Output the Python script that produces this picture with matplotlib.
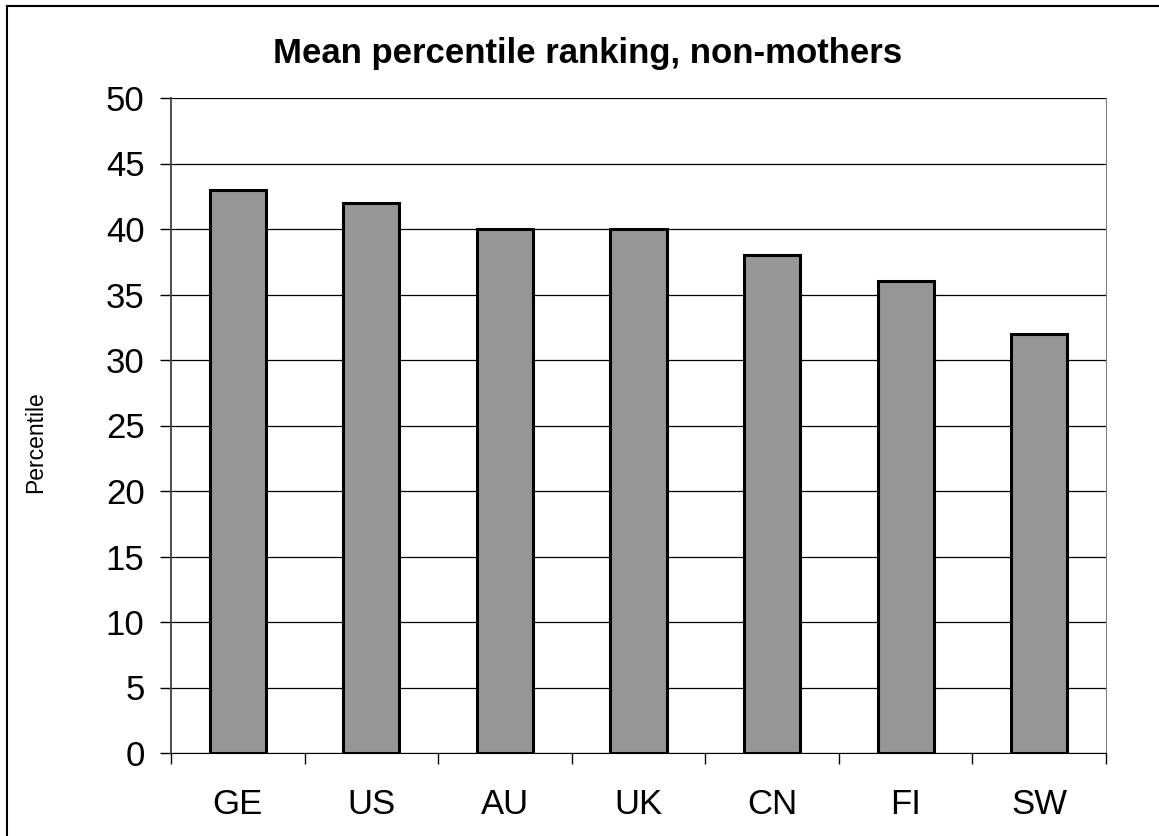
import matplotlib.pyplot as plt
from matplotlib.lines import Line2D

countries = ["GE", "US", "AU", "UK", "CN", "FI", "SW"]
percentile = [43, 42, 40, 40, 38, 36, 32]
yticks = [0, 5, 10, 15, 20, 25, 30, 35, 40, 45, 50]

plt.rcParams["font.family"] = ["Liberation Sans", "DejaVu Sans"]

fig = plt.figure(figsize=(11.59, 8.36), dpi=100)
W, H = 1159, 836
ax = fig.add_axes([171 / W, 1 - 753 / H, (1106 - 171) / W, (753 - 98) / H])

x = range(len(countries))
ax.bar(x, percentile, width=0.42, color="#969696", edgecolor="black",
       linewidth=2.2, zorder=3)

ax.set_xlim(-0.5, len(countries) - 0.5)
ax.set_ylim(0, 50)
ax.set_yticks(yticks)
ax.tick_params(axis="y", labelsize=25, length=8, width=1, direction="out", pad=11)
ax.grid(axis="y", color="black", linewidth=0.9, zorder=0)

# category labels between tick marks at category boundaries
ax.set_xticks([i + 0.5 for i in range(-1, len(countries))])
ax.set_xticklabels([])
ax.set_xticks(list(x), minor=True)
ax.set_xticklabels(countries, minor=True)
ax.tick_params(axis="x", which="major", length=8, width=1, direction="out")
ax.tick_params(axis="x", which="minor", length=0, labelsize=25, pad=25)

ax.spines["top"].set_visible(False)
ax.spines["right"].set_color("#808080")
ax.spines["left"].set_color("#404040")
ax.spines["left"].set_linewidth(1.3)
ax.spines["bottom"].set_color("black")

fig.text(36 / W, 1 - 442 / H, "Percentile", rotation=90,
         ha="center", va="center", fontsize=16.5)
fig.text(588 / W, 1 - 54 / H, "Mean percentile ranking, non-mothers",
         ha="center", va="center", fontsize=25, fontweight="bold")

# outer frame: only top and left edges fall inside the picture
fig.add_artist(Line2D([6.5 / W, 1], [1 - 5.5 / H, 1 - 5.5 / H],
                      transform=fig.transFigure, color="black", linewidth=1.5))
fig.add_artist(Line2D([6.5 / W, 6.5 / W], [0, 1 - 5.5 / H],
                      transform=fig.transFigure, color="black", linewidth=1.5))

fig.savefig("out.png", dpi=100)
